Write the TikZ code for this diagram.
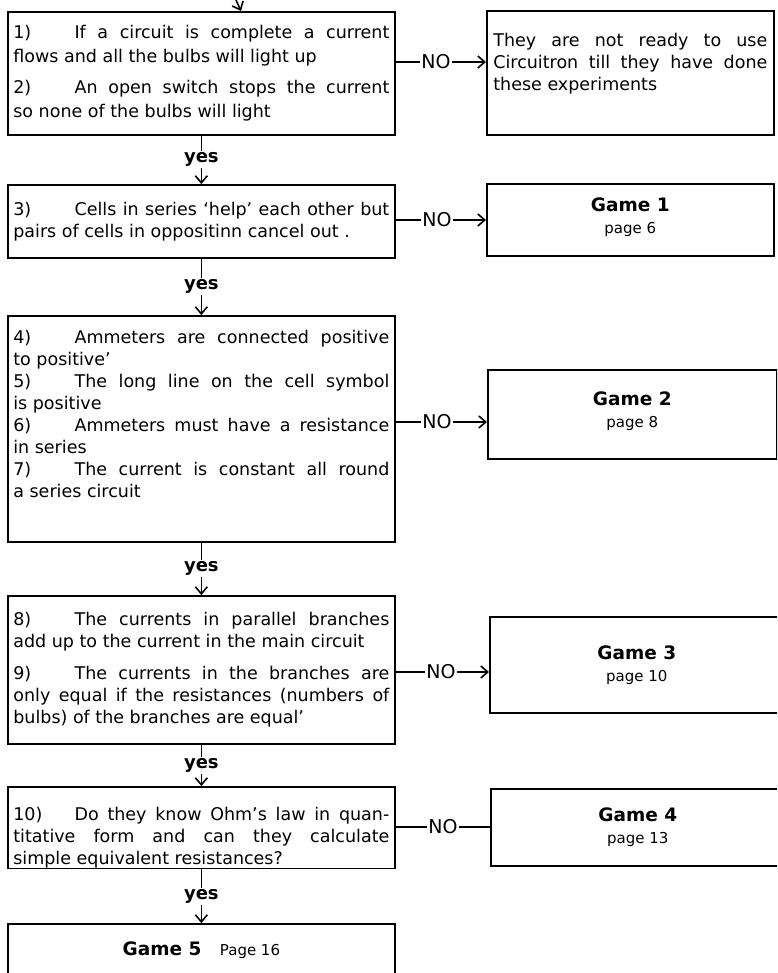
\documentclass[tikz,border=0pt]{standalone}
\usepackage{fontspec}
\setmainfont{DejaVu Sans}
\usetikzlibrary{arrows.meta}

\tikzset{
  qbox/.style={draw, line width=1.7pt, anchor=north west, text width=376pt,
    inner xsep=5.5pt, inner ysep=0pt, align=justify, minimum width=387pt,
    font=\fontsize{17.5}{22}\selectfont},
  gbox/.style={draw, line width=1.7pt, anchor=north west, align=center,
    inner sep=0pt, font=\fontsize{18.5}{22}\selectfont},
  nolab/.style={inner sep=1.5pt, font=\fontsize{19}{19}\selectfont},
  yeslab/.style={fill=white, inner sep=1.5pt, font=\bfseries\fontsize{18}{18}\selectfont},
  arr/.style={-{Straight Barb[length=7pt,width=12pt,line width=1.6pt]}, line width=1.6pt},
}
\newcommand{\qnum}[1]{\makebox[3.5em][l]{#1}}
\newcommand{\pg}[1]{{\fontsize{15}{16}\selectfont #1}}

\begin{document}
\begin{tikzpicture}[x=1pt,y=-1pt]
\useasboundingbox (0,0) rectangle (777,973);
\clip (0,0) rectangle (777,973);

% questions down the left
\node[qbox, minimum height=123pt, font=\fontsize{17.5}{24}\selectfont] (q1) at (7,11)
  {\qnum{1)}If a circuit is complete a current\linebreak flows and all the bulbs will light up\par\vspace{7pt}%
   \qnum{2)}An open switch stops the current\linebreak so none of the bulbs will light};
\node[qbox, minimum height=73pt] (q2) at (7,184)
  {\qnum{3)}Cells in series `help' each other but\linebreak pairs of cells in oppositinn cancel out .};
\node[qbox, minimum height=226pt] (q3) at (7,315)
  {\qnum{4)}Ammeters are connected positive\linebreak to positive'\par
   \qnum{5)}The long line on the cell symbol\linebreak is positive\par
   \qnum{6)}Ammeters must have a resistance\linebreak in series\par
   \qnum{7)}The current is constant all round\linebreak a series circuit\rule[-30pt]{0pt}{1pt}};
\node[qbox, minimum height=148pt] (q4) at (7,595)
  {\qnum{8)}The currents in parallel branches\linebreak add up to the current in the main circuit\par\vspace{10pt}%
   \qnum{9)}The currents in the branches are\linebreak only equal if the resistances (numbers of\linebreak bulbs) of the branches are equal'};
\node[qbox, minimum height=73pt] (q5) at (7,786)
  {\rule{0pt}{34pt}\qnum{10)}Do they know Ohm's law in quan-\linebreak titative form and can they calculate\linebreak simple equivalent resistances?};
\node[gbox, minimum width=387pt, minimum height=52pt] (g5) at (7,923)
  {\textbf{Game 5}\quad\pg{Page 16}};

% where to go instead
\node[qbox, text width=274pt, inner xsep=6pt, minimum width=287pt, minimum height=124pt] (r0) at (486,10)
  {They are not ready to use\linebreak Circuitron till they have done\linebreak these experiments\rule[-22pt]{0pt}{1pt}};
\node[gbox, minimum width=287pt, minimum height=72pt] (r1) at (486,183) {\textbf{Game 1}\\ \pg{page 6}\rule[-8pt]{0pt}{1pt}};
\node[gbox, minimum width=289pt, minimum height=89pt] (r2) at (487,369) {\textbf{Game 2}\\ \pg{page 8}\rule[-10pt]{0pt}{1pt}};
\node[gbox, minimum width=294pt, minimum height=96pt] (r3) at (489,616) {\textbf{Game 3}\\ \pg{page 10}};
\node[gbox, minimum width=294pt, minimum height=77pt] (r4) at (490,788) {\textbf{Game 4}\\ \pg{page 13}};

\node[nolab] (no1) at (436,62) {NO};
\node[nolab] (no2) at (437,220) {NO};
\node[nolab] (no3) at (437,422) {NO};
\node[nolab] (no4) at (441,672) {NO};
\node[nolab] (no5) at (443,827) {NO};

\coordinate (top) at (236,0);
\coordinate (topend) at (241,0);
\draw[arr] (top) -- (topend |- q1.north);

\foreach \a/\b in {q1/q2,q2/q3,q3/q4,q4/q5,q5/g5}
  \draw[arr] (\a) -- node[yeslab]{yes} (\b);

\foreach \q/\n/\r in {q1/no1/r0,q2/no2/r1,q3/no3/r2,q4/no4/r3} {
  \draw[line width=1.6pt] (\q.east |- \n) -- (\n);
  \draw[arr] (\n) -- (\r.west |- \n);
}
\draw[line width=1.6pt] (q5.east |- no5) -- (no5) -- (r4.west |- no5);

\end{tikzpicture}
\end{document}
